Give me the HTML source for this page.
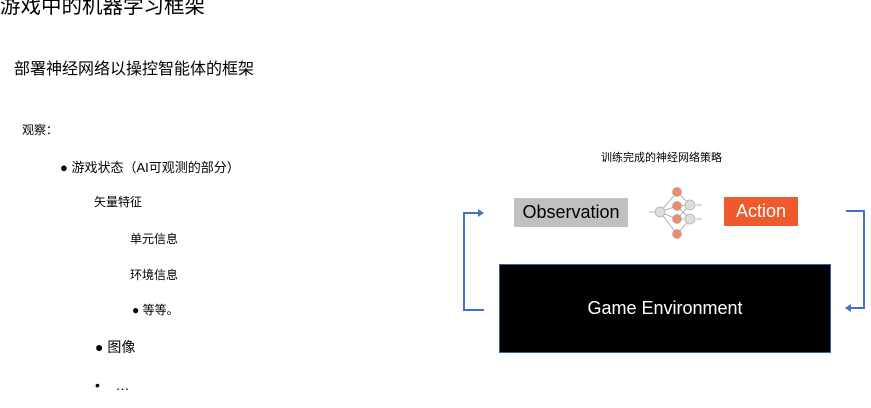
<!DOCTYPE html>
<html><head><meta charset="utf-8"><style>
body{margin:0;width:871px;height:408px;background:#fff;position:relative;overflow:hidden;font-family:"Liberation Sans","Noto Sans CJK SC",sans-serif;color:#000}
.t{position:absolute;white-space:nowrap;line-height:1}
</style></head><body>
<div class="t" style="left:0;top:-3px;font-size:20.5px">游戏中的机器学习框架</div>
<div class="t" style="left:14px;top:62px;font-size:16px">部署神经网络以操控智能体的框架</div>
<div class="t" style="left:22px;top:124px;font-size:12px">观察：</div>
<div class="t" style="left:60px;top:161px;font-size:13px">● 游戏状态（AI可观测的部分）</div>
<div class="t" style="left:94px;top:196px;font-size:12px">矢量特征</div>
<div class="t" style="left:130px;top:233px;font-size:12px">单元信息</div>
<div class="t" style="left:130px;top:269px;font-size:12px">环境信息</div>
<div class="t" style="left:132px;top:304px;font-size:12px">● 等等。</div>
<div class="t" style="left:95px;top:340px;font-size:14px">● 图像</div>
<div class="t" style="left:95px;top:378px;font-size:14px">•&nbsp;&nbsp;&nbsp; …</div>
<div class="t" style="left:601px;top:153px;font-size:11px">训练完成的神经网络策略</div>
<div class="t" style="left:514px;top:198px;width:114px;height:29px;background:#c0c0c0;font-size:18px;line-height:29px;text-align:center">Observation</div>
<div class="t" style="left:724px;top:197px;width:74px;height:29px;background:#ee5a2c;color:#fff;font-size:18px;line-height:29px;text-align:center">Action</div>
<div class="t" style="left:499px;top:264px;width:330px;height:87px;background:#000;border:1px solid #3a5ea8;color:#fff;font-size:18px;line-height:87px;text-align:center">Game Environment</div>
<svg width="871" height="408" style="position:absolute;left:0;top:0">
<g stroke="#4472c4" stroke-width="2" fill="none">
<polyline points="484,310 464,310 464,213 480,213"/>
<polyline points="846,211 864,211 864,308 850,308"/>
</g>
<polygon points="484,213 478,209 478,217" fill="#4472c4"/>
<polygon points="845,308 851,304 851,312" fill="#4472c4"/>
<g stroke="#999" stroke-width="0.7" fill="none">
<line x1="660" y1="212" x2="677" y2="192"/><line x1="660" y1="212" x2="677" y2="206"/><line x1="660" y1="212" x2="677" y2="219"/><line x1="660" y1="212" x2="677" y2="234"/>
<line x1="677" y1="192" x2="690" y2="205"/><line x1="677" y1="206" x2="690" y2="205"/><line x1="677" y1="219" x2="690" y2="219"/><line x1="677" y1="234" x2="690" y2="219"/><line x1="677" y1="206" x2="690" y2="219"/><line x1="677" y1="219" x2="690" y2="205"/>
<line x1="649" y1="212" x2="655" y2="212"/><line x1="696" y1="205" x2="702" y2="205"/><line x1="696" y1="219" x2="702" y2="219"/>
</g>
<g stroke="#aaa" stroke-width="0.7">
<circle cx="660" cy="212" r="5" fill="#ddd"/>
<circle cx="677" cy="192" r="4.5" fill="#f08a6c"/><circle cx="677" cy="206" r="4.5" fill="#f08a6c"/><circle cx="677" cy="219" r="4.5" fill="#f08a6c"/><circle cx="677" cy="234" r="4.5" fill="#f08a6c"/>
<circle cx="690" cy="205" r="5" fill="#ddd"/><circle cx="690" cy="219" r="5" fill="#ddd"/>
</g>
</svg>
</body></html>
